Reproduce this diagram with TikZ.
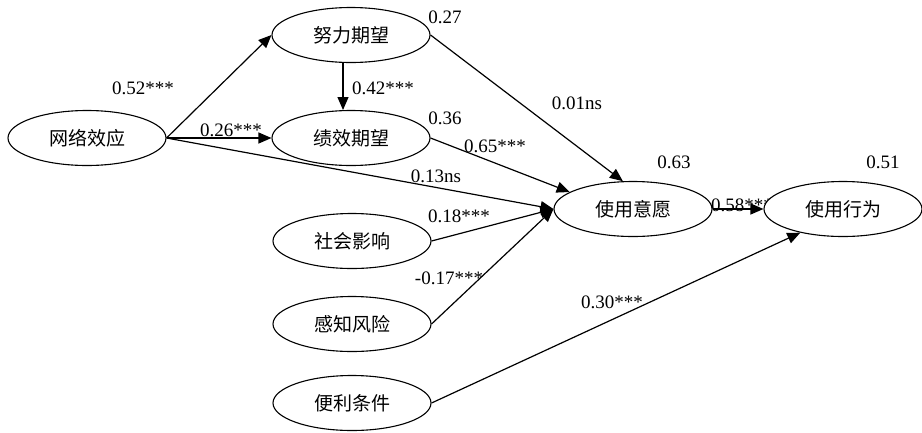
\documentclass[tikz,border=0pt]{standalone}
\usepackage{fontspec}
\setmainfont{Liberation Serif}
\newfontfamily\cjk{Noto Sans CJK SC}
\usepackage{tikz}
\usetikzlibrary{shapes.geometric,arrows.meta,backgrounds}

\begin{document}
\begin{tikzpicture}[x=1pt,y=1pt]
\tikzstyle{every node}+=[inner sep=0pt]
\tikzstyle{latent}=[draw=black, line width=1.1pt, fill=white, ellipse,
  minimum width=158pt, minimum height=55pt, font=\cjk\fontsize{19}{22}\selectfont]
\tikzstyle{coef}=[font=\fontsize{19}{22}\selectfont]
\tikzstyle{path}=[black, line width=1.2pt, -{Triangle[length=13pt,width=11pt]}]
\useasboundingbox (0,0) rectangle (922,-432);
\node [latent] (net) at (87,-138) {网络效应};
\node [latent] (effort) at (351,-35) {努力期望};
\node [latent] (perf) at (351,-138) {绩效期望};
\node [latent] (social) at (352,-241) {社会影响};
\node [latent] (risk) at (352,-324) {感知风险};
\node [latent] (facil) at (352,-403) {便利条件};
\node [latent] (intent) at (633,-209) {使用意愿};
\node [latent] (behav) at (843,-209) {使用行为};
\begin{scope}[on background layer]
\coordinate (effortS) at (343,-63);
\coordinate (perfN) at (343,-110);
\draw [path] (net.east) -- (effort.west);
\draw [path] (net.east) -- (perf.west);
\draw [path] (net.east) -- (intent.west);
\draw [path] (effortS) -- (perfN);
\draw [path] (effort.east) -- (intent.110);
\draw [path] (perf.east) -- (intent.165);
\draw [path] (social.east) -- (intent.west);
\draw [path] (risk.east) -- (intent.west);
\draw [path] (facil.east) -- (behav.209);
\draw [path] (intent.east) -- (behav.west);
\node [coef] (r2effort) at (445,-17) {0.27};
\node [coef] (r2perf) at (445,-118) {0.36};
\node [coef] (r2intent) at (674,-162) {0.63};
\node [coef] (r2behav) at (883,-162) {0.51};
\node [coef] (bnetef) at (143,-88) {0.52***};
\node [coef] (befpf) at (383,-88) {0.42***};
\node [coef] (bnetpf) at (231,-130) {0.26***};
\node [coef] (befin) at (577,-103) {0.01ns};
\node [coef] (bpfin) at (495,-146) {0.65***};
\node [coef] (bnetin) at (436,-176) {0.13ns};
\node [coef] (bsoin) at (459,-216) {0.18***};
\node [coef] (briin) at (449,-278) {-0.17***};
\node [coef] (bfabe) at (612,-302) {0.30***};
\node [coef] (binbe) at (742,-205) {0.58***};
\end{scope}
\end{tikzpicture}
\end{document}
